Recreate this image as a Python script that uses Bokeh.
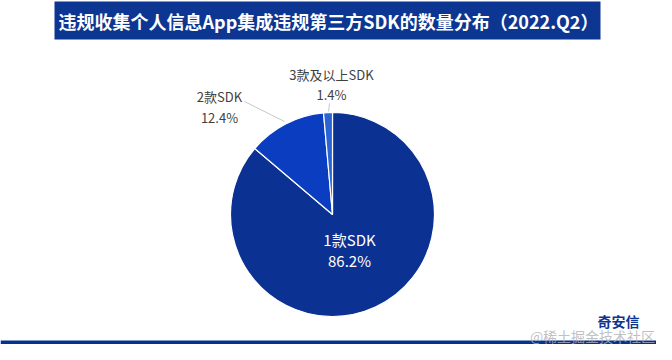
import math
from bokeh.plotting import figure
from bokeh.models import Range1d, ColumnDataSource
from bokeh.core.properties import value
from bokeh.embed import file_html
from bokeh.resources import INLINE

# ---- data ----
categories = ["1款SDK", "2款SDK", "3款及以上SDK"]
shares = [86.2, 12.4, 1.4]
pct_labels = ["86.2%", "12.4%", "1.4%"]
colors = ["#0b3293", "#0a3dbf", "#2a64d4"]
title_text = "违规收集个人信息App集成违规第三方SDK的数量分布（2022.Q2）"

W, H = 656, 344
FONT = "Noto Sans CJK SC"

p = figure(width=W, height=H, output_backend="svg", toolbar_location=None,
           x_range=Range1d(0, W), y_range=Range1d(0, H), min_border=0)
p.axis.visible = False
p.grid.visible = False
p.outline_line_color = None
p.background_fill_color = "white"
p.border_fill_color = "white"

# pie geometry (pixel space)
cx, cy, r = 332, 130, 102
total = sum(shares)
starts, ends = [], []
cum = 0.0
for s in shares:
    starts.append(math.pi / 2 - 2 * math.pi * cum / total)
    cum += s
    ends.append(math.pi / 2 - 2 * math.pi * cum / total)

src = ColumnDataSource(dict(start=starts, end=ends, color=colors, cat=categories))
p.wedge(x=cx, y=cy, radius=r, start_angle="start", end_angle="end",
        direction="clock", fill_color="color", line_color="white", line_width=1.2,
        source=src)

# title box
p.rect(x=327, y=324, width=546, height=38, fill_color="#0d3692", line_color=None)
p.text(x=[328], y=[324], text=[title_text], text_color="white",
       text_font=value(FONT), text_font_style="bold", text_font_size="18px",
       text_align="center", text_baseline="middle")

# bottom bar
p.rect(x=W / 2, y=2, width=W, height=4, fill_color="#04338f", line_color=None)

# leader lines
p.line(x=[244, 284], y=[243, 223], line_color="#c8c8c8", line_width=1)
p.line(x=[329, 328], y=[241, 233], line_color="#c8c8c8", line_width=1)

# labels
name_pos = [(349, 105), (219, 248), (331, 270)]
pct_pos = [(349, 84), (219, 227), (331, 250)]
for i in range(len(categories)):
    inside = i == 0
    col = "white" if inside else "#404040"
    fs = "15px" if inside else "13px"
    p.text(x=[name_pos[i][0]], y=[name_pos[i][1]], text=[categories[i]],
           text_color=col, text_font=value(FONT), text_font_size=fs,
           text_align="center", text_baseline="middle")
    p.text(x=[pct_pos[i][0]], y=[pct_pos[i][1]], text=[pct_labels[i]],
           text_color=col, text_font=value(FONT), text_font_size=fs,
           text_align="center", text_baseline="middle")

# watermark / logo text
p.text(x=[618], y=[24], text=["奇安信"], text_color="#0d3692",
       text_font=value(FONT), text_font_style="bold", text_font_size="14px",
       text_align="center", text_baseline="middle")
p.text(x=[592], y=[9], text=["@稀土掘金技术社区"], text_color="#b0b0b0",
       text_alpha=0.8, text_font=value(FONT), text_font_size="14px",
       text_align="center", text_baseline="middle")

open("out.html", "w").write(file_html(p, INLINE))
